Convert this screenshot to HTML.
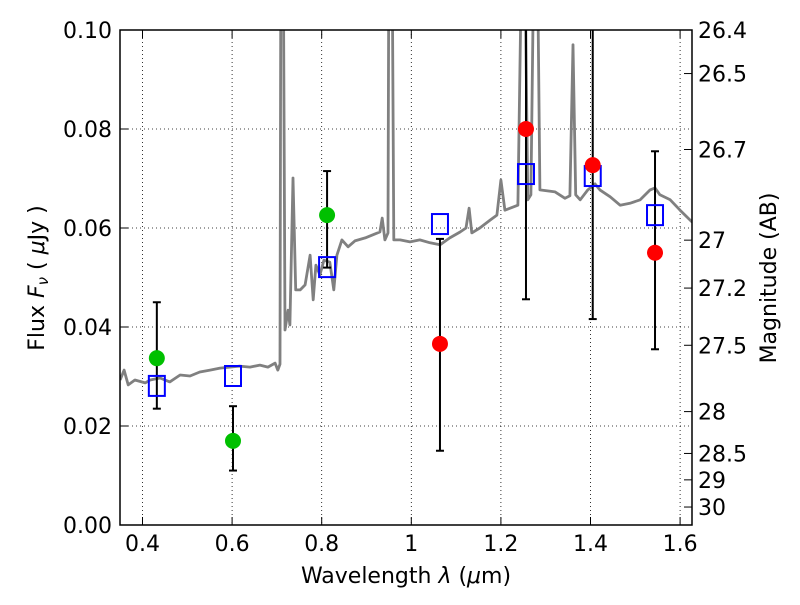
<!DOCTYPE html>
<html><head><meta charset="utf-8"><style>
body{margin:0;background:#fff}
svg text{font-family:"DejaVu Sans","Liberation Sans",sans-serif;fill:#000}
</style></head><body>
<svg id="chart" width="800" height="600" xmlns="http://www.w3.org/2000/svg">
<defs><clipPath id="clip"><rect x="120" y="30" width="572" height="495"/></clipPath></defs>
<g id="grid"></g>
<g id="spec" clip-path="url(#clip)"></g>
<g id="marks" clip-path="url(#clip)"></g>
<rect x="120" y="30" width="572" height="495" fill="none" stroke="#000" stroke-width="1.5"/>
<g id="axes"></g>
<text x="406" y="583" font-size="22" text-anchor="middle">Wavelength  <tspan font-style="italic">λ</tspan> (<tspan font-style="italic">μ</tspan>m)</text>
<text transform="translate(44,278) rotate(-90)" font-size="22" text-anchor="middle">Flux  <tspan font-style="italic">F</tspan><tspan font-style="italic" font-size="15" dy="4">ν</tspan><tspan dy="-4">  ( </tspan><tspan font-style="italic">μ</tspan>Jy )</text>
<text transform="translate(776,278) rotate(-90)" font-size="22" text-anchor="middle">Magnitude (AB)</text>
</svg>
<script>
const specWave=[0.350,0.359,0.368,0.383,0.406,0.417,0.439,0.461,0.484,0.506,0.528,0.551,0.573,0.595,0.617,0.640,0.662,0.680,0.696,0.702,0.707,0.709,0.714,0.718,0.725,0.729,0.736,0.742,0.752,0.763,0.774,0.781,0.787,0.796,0.805,0.818,0.827,0.834,0.845,0.859,0.874,0.897,0.919,0.930,0.935,0.941,0.948,0.950,0.957,0.961,0.975,0.997,1.019,1.042,1.064,1.086,1.109,1.122,1.129,1.135,1.153,1.176,1.191,1.200,1.209,1.238,1.247,1.253,1.260,1.267,1.274,1.281,1.287,1.321,1.343,1.354,1.361,1.367,1.377,1.394,1.410,1.421,1.444,1.466,1.488,1.511,1.533,1.544,1.555,1.578,1.600,1.627];
const specFlux=[0.0293,0.0313,0.0283,0.0293,0.0287,0.0293,0.0297,0.0289,0.0303,0.0301,0.0309,0.0313,0.0317,0.0319,0.0321,0.0319,0.0323,0.0319,0.0327,0.0313,0.0325,0.12,0.12,0.0394,0.0434,0.0404,0.0701,0.0475,0.0475,0.0485,0.0545,0.0455,0.0525,0.0505,0.0535,0.0531,0.0475,0.0545,0.0576,0.0562,0.0574,0.058,0.0588,0.0592,0.062,0.0576,0.059,0.12,0.12,0.0576,0.0576,0.0572,0.0576,0.057,0.0566,0.058,0.0592,0.060,0.064,0.059,0.060,0.0616,0.0626,0.0697,0.0636,0.0646,0.12,0.12,0.0657,0.0667,0.12,0.12,0.0677,0.0673,0.066,0.0665,0.097,0.0667,0.0657,0.0677,0.0689,0.0677,0.0663,0.0646,0.065,0.0657,0.0677,0.0681,0.0667,0.0657,0.0636,0.0612];
const greenWave=[0.432,0.602,0.812];
const greenFlux=[0.0337,0.017,0.0626];
const greenLo=[0.0235,0.011,0.052];
const greenHi=[0.045,0.024,0.0715];
const redWave=[1.064,1.256,1.405,1.544];
const redFlux=[0.0366,0.080,0.0727,0.055];
const redLo=[0.015,0.0456,0.0416,0.0355];
const redHi=[0.0578,0.15,0.15,0.0755];
const modelWave=[0.432,0.602,0.812,1.064,1.256,1.405,1.544];
const modelFlux=[0.0281,0.0301,0.0521,0.0608,0.0709,0.0705,0.0626];
const xTicks=[0.4,0.6,0.8,1.0,1.2,1.4,1.6];
const xTickLabels=["0.4","0.6","0.8","1","1.2","1.4","1.6"];
const yTicks=[0,0.02,0.04,0.06,0.08,0.1];
const yTickLabels=["0.00","0.02","0.04","0.06","0.08","0.10"];
const magTicks=[26.4,26.5,26.7,27,27.2,27.5,28,28.5,29,30];
const magTickLabels=["26.4","26.5","26.7","27","27.2","27.5","28","28.5","29","30"];

const NS="http://www.w3.org/2000/svg";
const X=l=>142.5+(l-0.4)*448;
const Y=f=>525-f*4950;
const magToFlux=m=>Math.pow(10,(23.9-m)/2.5);
function mk(tag,attrs,parent){const e=document.createElementNS(NS,tag);for(const k in attrs)e.setAttribute(k,attrs[k]);parent.appendChild(e);return e;}
const grid=document.getElementById('grid'),axes=document.getElementById('axes'),spec=document.getElementById('spec'),marks=document.getElementById('marks');

xTicks.forEach((t,i)=>{
  const x=X(t);
  const g=mk('line',{x1:x,x2:x,y1:30,y2:525,stroke:'#000','stroke-width':0.8,'stroke-dasharray':'1,3'},grid);
  
  
  mk('line',{x1:x,x2:x,y1:525,y2:517,stroke:'#000'},axes);
  mk('line',{x1:x,x2:x,y1:30,y2:38,stroke:'#000'},axes);
  const t1=mk('text',{x:x,y:551,'font-size':22,'text-anchor':'middle'},axes);
  t1.textContent=xTickLabels[i];
  
  
});
yTicks.forEach((t,i)=>{
  const y=Y(t);
  const g=mk('line',{x1:120,x2:692,y1:y,y2:y,stroke:'#000','stroke-width':0.8,'stroke-dasharray':'1,3'},grid);
  
  
  mk('line',{x1:120,x2:128,y1:y,y2:y,stroke:'#000'},axes);
  const t1=mk('text',{x:112,y:y+8,'font-size':22,'text-anchor':'end'},axes);
  t1.textContent=yTickLabels[i];
  
  
});
magTicks.forEach((m,i)=>{
  const y=Y(magToFlux(m));
  mk('line',{x1:684,x2:692,y1:y,y2:y,stroke:'#000'},axes);
  const t1=mk('text',{x:698,y:y+8,'font-size':22},axes);
  t1.textContent=magTickLabels[i];
  
  
});

const pts=specWave.map((w,i)=>X(w).toFixed(1)+','+Y(specFlux[i]).toFixed(1)).join(' ');
const pl=mk('polyline',{points:pts,fill:'none',stroke:'#808080','stroke-width':2.8,'stroke-linejoin':'round'},spec);



function errbar(w,lo,hi){
  const x=X(w);
  const e=mk('g',{},marks);
  
  
  mk('line',{x1:x,x2:x,y1:Y(lo),y2:Y(hi),stroke:'#000','stroke-width':2},e);
  mk('line',{x1:x-4,x2:x+4,y1:Y(lo),y2:Y(lo),stroke:'#000','stroke-width':2},e);
  mk('line',{x1:x-4,x2:x+4,y1:Y(hi),y2:Y(hi),stroke:'#000','stroke-width':2},e);
}
greenWave.forEach((w,i)=>errbar(w,greenLo[i],greenHi[i]));
redWave.forEach((w,i)=>errbar(w,redLo[i],redHi[i]));
modelWave.forEach((w,i)=>{
  const r=mk('rect',{x:X(w)-8,y:Y(modelFlux[i])-10,width:16,height:20,fill:'none',stroke:'#0000ff','stroke-width':2},marks);
  
  
});
greenWave.forEach((w,i)=>{
  const c=mk('circle',{cx:X(w),cy:Y(greenFlux[i]),r:8,fill:'#00c000'},marks);
  
  
});
redWave.forEach((w,i)=>{
  const c=mk('circle',{cx:X(w),cy:Y(redFlux[i]),r:8,fill:'#ff0000'},marks);
  
  
});
</script>
</body></html>
